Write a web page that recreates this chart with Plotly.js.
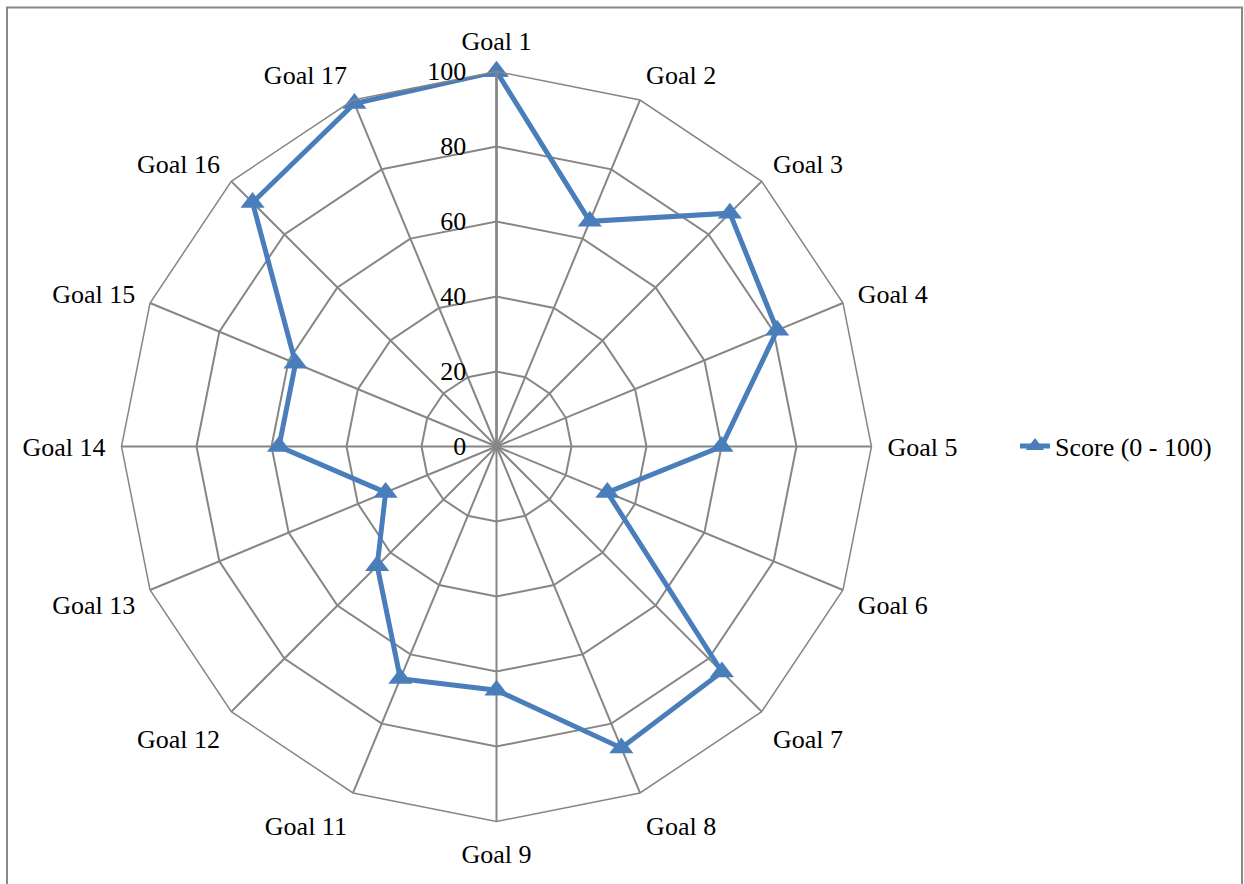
<!DOCTYPE html>
<html>
<head>
<meta charset="utf-8">
<script src="https://cdn.plot.ly/plotly-3.0.1.min.js"></script>
<style>html,body{margin:0;padding:0;background:#fff}#chart{width:1244px;height:884px}</style>
</head>
<body>
<div id="chart"></div>
<script>
const categories = ["Goal 1","Goal 2","Goal 3","Goal 4","Goal 5","Goal 6","Goal 7","Goal 8","Goal 9","Goal 11","Goal 12","Goal 13","Goal 14","Goal 15","Goal 16","Goal 17"];
const scores = [100, 65, 88, 81, 60, 32, 85, 87, 65, 67, 45, 32, 58, 58, 92, 99];
const seriesName = "Score (0 - 100)";
const radialTicks = [0, 20, 40, 60, 80, 100];

const W = 1244, H = 884;
const cx = 496.5, cy = 446.5, R = 375;

const trace = {
  type: "scatterpolar",
  r: scores.concat([scores[0]]),
  theta: categories.concat([categories[0]]),
  mode: "lines+markers",
  name: seriesName,
  line: {color: "#4A7EBB", width: 5},
  marker: {symbol: "triangle-up", size: 21, color: "#4A7EBB"}
};

const layout = {
  width: W, height: H,
  margin: {l: 0, r: 0, t: 0, b: 0},
  paper_bgcolor: "#fff",
  font: {family: "Liberation Serif, Times New Roman, serif", size: 26, color: "#000"},
  showlegend: true,
  legend: {x: 1015/W, y: 1 - 446/H, xanchor: "left", yanchor: "middle", font: {size: 26}, bgcolor: "rgba(0,0,0,0)"},
  polar: {
    domain: {x: [(cx - R)/W, (cx + R)/W], y: [1 - (cy + R)/H, 1 - (cy - R)/H]},
    gridshape: "linear",
    bgcolor: "#fff",
    radialaxis: {
      range: [0, 100], tickvals: radialTicks, ticktext: radialTicks.map(String),
      angle: 90, side: "counterclockwise", tickangle: 90,
      showline: true, linecolor: "#868686", linewidth: 2.5,
      gridcolor: "#868686", gridwidth: 1.5,
      ticks: "outside", ticklen: 20, tickcolor: "rgba(0,0,0,0)", tickfont: {size: 26}
    },
    angularaxis: {
      rotation: 90, direction: "clockwise",
      showline: true, linecolor: "#868686", linewidth: 1.5,
      gridcolor: "#868686", gridwidth: 1.5,
      ticks: "outside", ticklen: 10, tickcolor: "rgba(0,0,0,0)", tickfont: {size: 26}
    }
  },
  shapes: [{
    type: "rect", xref: "paper", yref: "paper",
    x0: 7/W, x1: 1242/W, y0: -0.02, y1: 1 - 7.5/H,
    line: {color: "#888888", width: 2}
  }]
};

Plotly.newPlot("chart", [trace], layout, {displayModeBar: false});
</script>
</body>
</html>
